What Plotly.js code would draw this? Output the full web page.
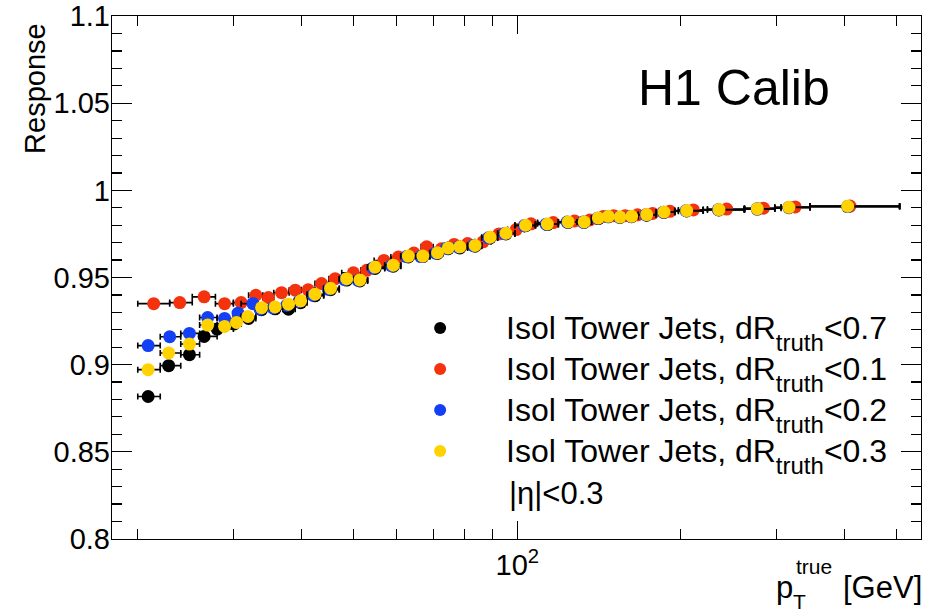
<!DOCTYPE html>
<html>
<head>
<meta charset="utf-8">
<script src="https://cdn.plot.ly/plotly-3.0.1.min.js"></script>
<style>html,body{margin:0;padding:0;background:#fff;}#chart{width:941px;height:616px;}</style>
</head>
<body>
<div id="chart"></div>
<script>
// ---- data ----
const seriesCuts = ['0.7', '0.1', '0.2', '0.3'];
const seriesColors = ['#000000', '#f4330e', '#1440f5', '#ffd200'];

// common bin edges (pT true, GeV) for the dR<0.7, 0.2, 0.3 samples
const binEdges = [20, 22, 24, 26, 28, 30, 31, 33, 35, 37, 39, 41, 44, 47, 50, 53, 57, 61, 65, 69, 73, 77, 81, 86, 92, 99, 108, 119, 129, 137, 144, 151, 158, 167, 180, 195, 220, 262, 298, 346, 506];
// bin edges for the dR<0.1 sample
const binEdgesR01 = [20, 22.9, 25.2, 27.8, 30, 32, 34, 35.6, 38, 40, 42.4, 45, 47.5, 51.5, 54.5, 58.5, 62.5, 66.5, 70, 74.5, 78.5, 83.5, 89.5, 96, 103, 109, 124, 131, 141, 147, 154, 162, 171, 184, 198, 224, 262, 306, 346, 506];

const xR07 = [20.9, 22.8, 24.9, 26.5, 28.0, 30.1, 32.0, 33.8, 35.8, 37.9, 39.9, 42.4, 45.3, 48.5, 51.3, 54.7, 59.1, 63.0, 67.0, 71.3, 74.6, 78.4, 83.6, 89.1, 95.3, 103.6, 113.6, 124.1, 132.8, 141.0, 147.1, 154.6, 162.4, 173.1, 186.3, 205.1, 235.2, 276.7, 316.5, 406.0];
const yR07 = [0.8817, 0.8994, 0.9057, 0.9162, 0.9204, 0.9233, 0.9265, 0.9315, 0.9320, 0.9318, 0.9355, 0.9395, 0.9430, 0.9485, 0.9480, 0.9552, 0.9565, 0.9618, 0.9620, 0.9638, 0.9665, 0.9670, 0.9680, 0.9727, 0.9750, 0.9797, 0.9804, 0.9816, 0.9816, 0.9838, 0.9848, 0.9845, 0.9849, 0.9858, 0.9873, 0.9882, 0.9888, 0.9893, 0.9901, 0.9907];

const xR01 = [21.4, 23.9, 26.5, 28.9, 31.0, 33.0, 34.8, 36.8, 39.0, 41.2, 43.6, 46.2, 49.9, 52.8, 56.8, 60.4, 64.5, 68.1, 72.5, 76.5, 81.0, 86.5, 92.5, 99.5, 106.0, 116.5, 127.5, 136.0, 144.0, 150.5, 158.0, 166.5, 177.5, 191.0, 211.0, 243.0, 284.0, 325.0, 410.0];
const yR01 = [0.9350, 0.9356, 0.9389, 0.9350, 0.9356, 0.9398, 0.9385, 0.9413, 0.9427, 0.9429, 0.9465, 0.9493, 0.9527, 0.9541, 0.9598, 0.9617, 0.9640, 0.9676, 0.9665, 0.9690, 0.9695, 0.9705, 0.9750, 0.9775, 0.9808, 0.9815, 0.9825, 0.9830, 0.9850, 0.9855, 0.9855, 0.9860, 0.9868, 0.9880, 0.9888, 0.9893, 0.9898, 0.9905, 0.9910];

const xR02 = [20.9, 22.9, 24.9, 26.9, 28.9, 30.6, 32.6, 33.6, 35.5, 37.6, 39.6, 42.0, 44.9, 48.1, 50.9, 54.2, 58.6, 62.5, 66.4, 70.7, 74.0, 77.8, 83.0, 88.5, 94.7, 103.0, 113.0, 123.5, 132.2, 140.5, 146.5, 154.0, 161.8, 172.5, 185.7, 204.5, 234.5, 276.5, 316.5, 406.5];
const yR02 = [0.9109, 0.9160, 0.9179, 0.9270, 0.9265, 0.9295, 0.9350, 0.9318, 0.9325, 0.9340, 0.9362, 0.9398, 0.9432, 0.9488, 0.9484, 0.9555, 0.9568, 0.9620, 0.9620, 0.9640, 0.9668, 0.9674, 0.9683, 0.9728, 0.9752, 0.9798, 0.9806, 0.9818, 0.9818, 0.9840, 0.9850, 0.9846, 0.9850, 0.9860, 0.9875, 0.9883, 0.9889, 0.9894, 0.9902, 0.9907];

const xR03 = [20.9, 22.8, 24.9, 26.9, 28.9, 30.4, 31.9, 33.8, 35.8, 37.9, 39.9, 42.4, 45.3, 48.5, 51.3, 54.7, 59.1, 63.0, 67.0, 71.3, 74.6, 78.4, 83.6, 89.1, 95.3, 103.6, 113.6, 124.1, 132.8, 141.0, 147.1, 154.6, 162.4, 173.1, 186.3, 205.1, 235.2, 276.7, 316.5, 406.0];
const yR03 = [0.8971, 0.9067, 0.9118, 0.9227, 0.9219, 0.9242, 0.9276, 0.9327, 0.9331, 0.9347, 0.9366, 0.9404, 0.9438, 0.9493, 0.9486, 0.9560, 0.9571, 0.9623, 0.9623, 0.9642, 0.9670, 0.9676, 0.9684, 0.9731, 0.9754, 0.9800, 0.9807, 0.9819, 0.9819, 0.9842, 0.9851, 0.9847, 0.9851, 0.9861, 0.9876, 0.9884, 0.9890, 0.9895, 0.9903, 0.9909];

const yTickVals = [0.8, 0.85, 0.9, 0.95, 1, 1.05, 1.1];
const yTickText = ['0.8', '0.85', '0.9', '0.95', '1', '1.05', '1.1'];
const xTickVals = [100];
const xTickText = ['10<sup>2</sup>'];
const xMinorTickVals = [20, 30, 40, 50, 60, 70, 80, 90, 200, 300, 400, 500];

// ---- build traces ----
function errs(x, edges) {
  const plus = [], minus = [];
  for (let i = 0; i < x.length; i++) {
    minus.push(x[i] - edges[i]);
    plus.push(edges[i + 1] - x[i]);
  }
  return {plus, minus};
}
const xs = [xR07, xR01, xR02, xR03];
const ys = [yR07, yR01, yR02, yR03];
const edgesFor = [binEdges, binEdgesR01, binEdges, binEdges];

const FONT = 'Liberation Sans, Arial, Helvetica, sans-serif';
const traces = xs.map((x, k) => {
  const e = errs(x, edgesFor[k]);
  return {
    type: 'scatter', mode: 'markers',
    name: '<span style="font-size:32px">Isol Tower Jets, dR<span style="font-size:24px;baseline-shift:-12px">truth</span>&lt;' + seriesCuts[k] + '</span>',
    x: x, y: ys[k],
    marker: {color: seriesColors[k], size: 13, symbol: 'circle', line: {width: 0}},
    error_x: {type: 'data', symmetric: false, array: e.plus, arrayminus: e.minus,
              color: '#000000', thickness: 1.6, width: 3},
    hoverinfo: 'x+y'
  };
});

const layout = {
  width: 941, height: 616,
  margin: {l: 112, r: 20, t: 16, b: 77},
  paper_bgcolor: '#ffffff', plot_bgcolor: '#ffffff',
  font: {family: FONT, color: '#000000'},
  showlegend: true,
  legend: {
    x: 0.324, xanchor: 'left', y: 0.452, yanchor: 'top',
    font: {family: FONT, size: 29.2, color: '#000000'},
    bgcolor: 'rgba(0,0,0,0)', borderwidth: 0,
    itemwidth: 122, itemsizing: 'constant', tracegroupgap: 0,
    traceorder: 'normal'
  },
  xaxis: {
    type: 'log', range: [Math.log10(17.93), Math.log10(554)],
    tickmode: 'array', tickvals: xTickVals, ticktext: xTickText,
    ticks: 'inside', ticklen: 18, tickwidth: 1.2, tickcolor: '#000',
    minor: {tickmode: 'array', tickvals: xMinorTickVals, ticks: 'inside', ticklen: 10, tickwidth: 1.2, tickcolor: '#000'},
    showline: true, linecolor: '#000', linewidth: 1.2, mirror: 'allticks',
    showgrid: false, zeroline: false,
    tickfont: {family: FONT, size: 29, color: '#000'}
  },
  yaxis: {
    range: [0.7999, 1.1001],
    tickmode: 'array', tickvals: yTickVals, ticktext: yTickText,
    ticks: 'inside', ticklen: 20, tickwidth: 1.2, tickcolor: '#000',
    minor: {dtick: 0.01, tick0: 0.8, ticks: 'inside', ticklen: 10, tickwidth: 1.2, tickcolor: '#000'},
    showline: true, linecolor: '#000', linewidth: 1.2, mirror: 'allticks',
    showgrid: false, zeroline: false, ticklabelstandoff: -5, ticklabeloverflow: 'allow',
    tickfont: {family: FONT, size: 29, color: '#000'}
  },
  annotations: [
    {xref: 'paper', yref: 'paper', x: 0.648, y: 0.862, xanchor: 'left', yanchor: 'middle',
     text: 'H1 Calib', showarrow: false, font: {family: FONT, size: 50, color: '#000'}},
    {xref: 'paper', yref: 'paper', x: 0.488, y: 0.0876, xanchor: 'left', yanchor: 'middle',
     text: '|η|&lt;0.3', showarrow: false, font: {family: FONT, size: 31, color: '#000'}},
    {xref: 'paper', yref: 'paper', x: -0.095, y: 0.99, xanchor: 'center', yanchor: 'top',
     text: 'Response', textangle: -90, showarrow: false, font: {family: FONT, size: 29, color: '#000'}},
    {xref: 'paper', yref: 'paper', x: 0.818, y: -0.093, xanchor: 'left', yanchor: 'middle',
     text: 'p', showarrow: false, font: {family: FONT, size: 31, color: '#000'}},
    {xref: 'paper', yref: 'paper', x: 0.839, y: -0.12, xanchor: 'left', yanchor: 'middle',
     text: 'T', showarrow: false, font: {family: FONT, size: 21, color: '#000'}},
    {xref: 'paper', yref: 'paper', x: 0.843, y: -0.053, xanchor: 'left', yanchor: 'middle',
     text: 'true', showarrow: false, font: {family: FONT, size: 21, color: '#000'}},
    {xref: 'paper', yref: 'paper', x: 1.004, y: -0.093, xanchor: 'right', yanchor: 'middle',
     text: '[GeV]', showarrow: false, font: {family: FONT, size: 31, color: '#000'}}
  ]
};

Plotly.newPlot('chart', traces, layout, {displayModeBar: false, staticPlot: true});
</script>
</body>
</html>
